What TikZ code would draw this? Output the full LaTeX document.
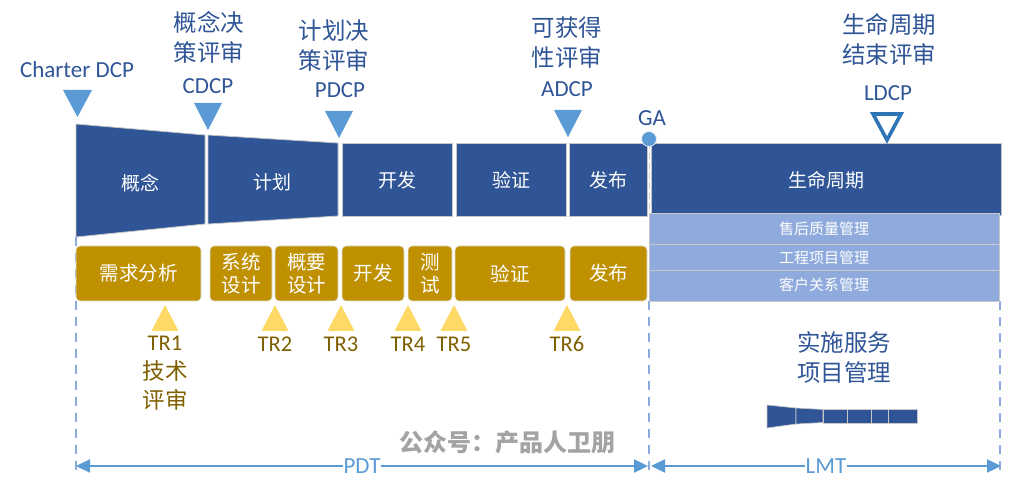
\documentclass[tikz,border=0pt]{standalone}
\usepackage{fontspec}
\setmainfont{Carlito}
\newfontfamily\cjk{Noto Sans CJK SC}
\usetikzlibrary{arrows.meta}
\definecolor{dblue}{HTML}{2F5597}
\definecolor{lblue}{HTML}{5B9BD5}
\definecolor{pblue}{HTML}{8FAADC}
\definecolor{gold}{HTML}{BF9000}
\definecolor{lgold}{HTML}{FFD966}
\definecolor{tgold}{HTML}{7F6000}
\definecolor{ldcp}{HTML}{2E75B6}
\begin{document}
\begin{tikzpicture}[x=1pt,y=-1pt,
  toptxt/.style={text=dblue, font=\cjk\fontsize{23.5}{30}\selectfont, align=center, inner sep=0},
  lattxt/.style={text=dblue, font=\fontsize{23}{27}\selectfont, inner sep=0},
  bartxt/.style={text=white, font=\cjk\fontsize{19}{23}\selectfont, inner sep=0},
  bar/.style={fill=dblue, draw=black!22, line width=0.8pt},
  gbox/.style={fill=gold, draw=black!12, line width=0.6pt, rounded corners=4pt, text=white, font=\cjk\fontsize{19.5}{23.5}\selectfont, align=center, inner sep=0, minimum height=55pt},
  trtri/.style={fill=lgold},
  trtxt/.style={text=tgold, font=\fontsize{22.5}{29}\selectfont, align=center, inner sep=0},
  dcptri/.style={fill=lblue},
  subrow/.style={fill=pblue, draw=black!22, line width=0.6pt},
  subtxt/.style={text=white, font=\cjk\fontsize{15}{18}\selectfont, inner sep=0},
  guide/.style={draw=pblue, dash pattern=on 9pt off 7pt, line width=1.2pt},
  spanarrow/.style={draw=lblue, line width=2.4pt, {Triangle[length=14pt,width=13pt]}-{Triangle[length=14pt,width=13pt]}},
  spantxt/.style={fill=white, text=lblue, font=\fontsize{23}{26}\selectfont, inner sep=1pt}
]
\useasboundingbox (0,0) rectangle (1010,494);

% dashed guides
\coordinate (ga0) at (76,237);
\coordinate (ga1) at (76,472);
\coordinate (gb0) at (649,301);
\coordinate (gb1) at (649,472);
\coordinate (gc0) at (1000,301);
\coordinate (gc1) at (1000,472);
\draw[guide] (ga0) -- (ga1);
\draw[guide] (gb0) -- (gb1);
\draw[guide] (gc0) -- (gc1);

% top bars
\path[bar] (76,124) -- (205,135) -- (205,224) -- (76,237) -- cycle;
\path[bar] (208,135) -- (338,143) -- (338,216) -- (208,224) -- cycle;
\path[bar] (342,143) rectangle (452,216);
\path[bar] (456,143) rectangle (566,216);
\path[bar] (569,143) rectangle (647,216);
\path[bar] (651,143) rectangle (1001,215);
\draw[white!80!black, dash pattern=on 6pt off 4pt, line width=0.8pt] (649,143) -- (649,216);

\node[bartxt] (b1) at (140,183) {概念};
\node[bartxt] (b2) at (272,182) {计划};
\node[bartxt] (b3) at (397,180) {开发};
\node[bartxt] (b4) at (511,180) {验证};
\node[bartxt] (b5) at (608,180) {发布};
\node[bartxt] (b6) at (826,180) {生命周期};

% sub rows
\path[subrow] (649,213) rectangle (999,244);
\path[subrow] (649,244) rectangle (999,270);
\path[subrow] (649,270) rectangle (999,301);
\node[subtxt] (s1) at (824,229) {售后质量管理};
\node[subtxt] (s2) at (824,258) {工程项目管理};
\node[subtxt] (s3) at (824,285) {客户关系管理};

% GA
\node[circle, fill=lblue, draw=white!85!lblue, line width=0.8pt, minimum size=15pt, inner sep=0] (ga) at (649,139) {};
\node[lattxt] (gatxt) at (652,118) {GA};

% DCP triangles
\path[dcptri] (63,90) -- (92,90) -- (77.5,117) -- cycle;
\path[dcptri] (194,103) -- (222,103) -- (208,130) -- cycle;
\path[dcptri] (325,111) -- (353,111) -- (339,138) -- cycle;
\path[dcptri] (554,110) -- (582,110) -- (568,137) -- cycle;
\draw[ldcp, line width=3.6pt, line join=miter] (873,114) -- (901,114) -- (887,140) -- cycle;

% top labels
\node[lattxt] (charter) at (77,70) {Charter DCP};
\node[toptxt] (cdcpz) at (209,37) {概念决\\策评审};
\node[lattxt] (cdcp) at (208,86) {CDCP};
\node[toptxt] (pdcpz) at (334,46) {计划决\\策评审};
\node[lattxt] (pdcp) at (340,90) {PDCP};
\node[toptxt] (adcpz) at (567,43) {可获得\\性评审};
\node[lattxt] (adcp) at (567,89) {ADCP};
\node[toptxt] (ldcpz) at (889,39) {生命周期\\结束评审};
\node[lattxt] (ldcp) at (888,93) {LDCP};

% gold boxes
\node[gbox, minimum width=125pt] (g1) at (138.5,273.5) {需求分析};
\node[gbox, minimum width=62pt] (g2) at (241,273.5) {系统\\设计};
\node[gbox, minimum width=63pt] (g3) at (306.5,273.5) {概要\\设计};
\node[gbox, minimum width=62pt] (g4) at (373,273.5) {开发};
\node[gbox, minimum width=44pt] (g5) at (430,273.5) {测\\试};
\node[gbox, minimum width=110pt] (g6) at (510,273.5) {验证};
\node[gbox, minimum width=77pt] (g7) at (608.5,273.5) {发布};

% TR triangles
\foreach \x in {165,275,341,408,454,567}{
  \path[trtri] (\x,305) -- (\x+13.5,331) -- (\x-13.5,331) -- cycle;
}
\node[trtxt] (tr1) at (165,373) {TR1\\{\cjk 技术}\\{\cjk 评审}};
\node[trtxt] (tr2) at (275,344) {TR2};
\node[trtxt] (tr3) at (341,344) {TR3};
\node[trtxt] (tr4) at (408,344) {TR4};
\node[trtxt] (tr5) at (454,344) {TR5};
\node[trtxt] (tr6) at (567,344) {TR6};

% service project management
\node[toptxt] (svc) at (844,358) {实施服务\\项目管理};
\path[bar, line width=0.6pt] (767,405) -- (796,408) -- (796,424) -- (767,428) -- cycle;
\path[bar, line width=0.6pt] (796,408) -- (823,409.5) -- (823,422.5) -- (796,424) -- cycle;
\path[bar, line width=0.6pt] (823,409) rectangle (847,423);
\path[bar, line width=0.6pt] (847,409) rectangle (871,423);
\path[bar, line width=0.6pt] (871,409) rectangle (888,423);
\path[bar, line width=0.6pt] (888,409) rectangle (917,423);

% watermark
\node[text=black!36, font=\cjk\bfseries\fontsize{24}{28}\selectfont, inner sep=0] (wm) at (507,442) {公众号：产品人卫朋};

% spans
\coordinate (p1) at (76,466);
\coordinate (p2) at (648,466);
\coordinate (l1) at (651,466);
\coordinate (l2) at (1001,466);
\draw[spanarrow] (p1) -- node[spantxt] (pdt) {PDT} (p2);
\draw[spanarrow] (l1) -- node[spantxt] (lmt) {LMT} (l2);
\end{tikzpicture}
\end{document}
